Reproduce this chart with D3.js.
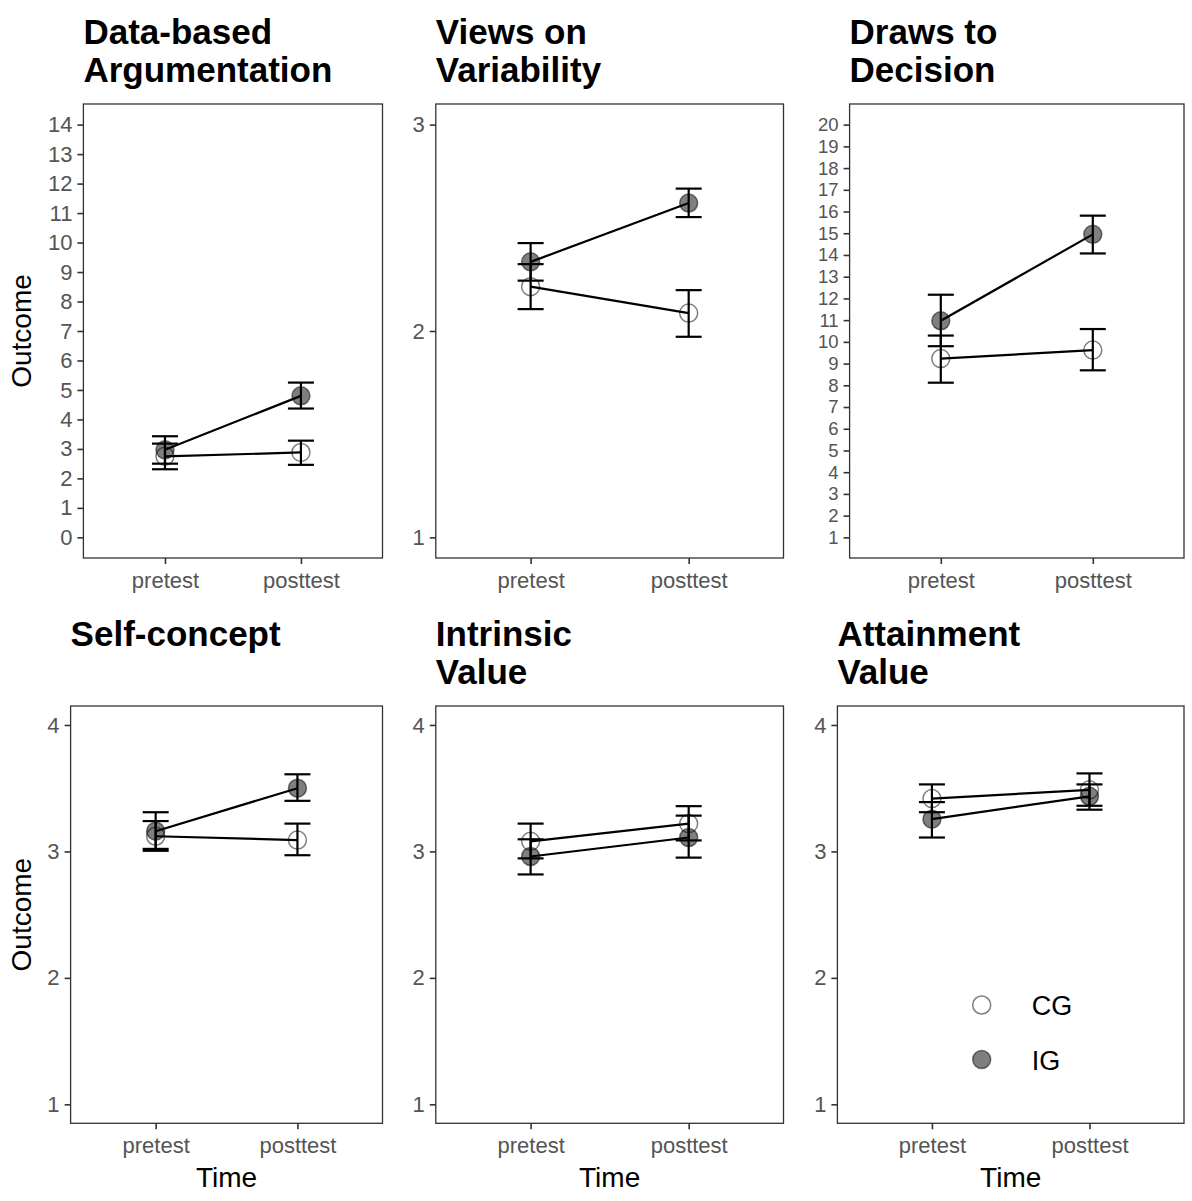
<html>
<head>
<title>Outcome by time</title>
<style>
body { margin: 0; background: #fff; }
svg { font-family: "Liberation Sans", Arial, sans-serif; }
</style>
</head>
<body>
<svg></svg>
<script src="https://d3js.org/d3.v7.min.js"></script>
<script>
// ---- data ----
var panelTitles = [
  ["Data-based", "Argumentation"],
  ["Views on", "Variability"],
  ["Draws to", "Decision"],
  ["Self-concept"],
  ["Intrinsic", "Value"],
  ["Attainment", "Value"]
];
var times = ["pretest", "posttest"];
var groups = ["CG", "IG"];

var yDomains = [[0, 14], [1, 3], [1, 20], [1, 4], [1, 4], [1, 4]];
var yTicks = [
  [0, 1, 2, 3, 4, 5, 6, 7, 8, 9, 10, 11, 12, 13, 14],
  [1, 2, 3],
  [1, 2, 3, 4, 5, 6, 7, 8, 9, 10, 11, 12, 13, 14, 15, 16, 17, 18, 19, 20],
  [1, 2, 3, 4],
  [1, 2, 3, 4],
  [1, 2, 3, 4]
];

// [pretest, posttest] per panel
var cgMean  = [[2.75, 2.88], [2.215, 2.087], [9.23, 9.62],  [3.12, 3.09],  [3.08, 3.22],  [3.418, 3.487]];
var cgLower = [[2.31, 2.46], [2.106, 1.972], [8.12, 8.69],  [3.005, 2.97], [2.945, 3.087], [3.31, 3.361]];
var cgUpper = [[3.18, 3.28], [2.324, 2.198], [10.29, 10.59], [3.24, 3.22], [3.22, 3.358], [3.53, 3.617]];
var igMean  = [[2.97, 4.80], [2.335, 2.62], [10.97, 14.95], [3.16, 3.50], [2.96, 3.11],  [3.255, 3.436]];
var igLower = [[2.50, 4.37], [2.244, 2.552], [9.80, 14.07], [3.02, 3.40],  [2.818, 2.951], [3.11, 3.33]];
var igUpper = [[3.43, 5.25], [2.426, 2.69], [12.17, 15.81], [3.31, 3.61], [3.096, 3.283], [3.39, 3.53]];

// ---- layout ----
var svg = d3.select("svg").attr("width", 1192).attr("height", 1201);

var frames = [
  {x0: 83.4,  x1: 382.5, y0: 104, y1: 558},
  {x0: 435.8, x1: 783.5, y0: 104, y1: 558},
  {x0: 849.6, x1: 1184,  y0: 104, y1: 558},
  {x0: 70.6,  x1: 382.5, y0: 706, y1: 1123.3},
  {x0: 435.8, x1: 783.5, y0: 706, y1: 1123.3},
  {x0: 837.4, x1: 1184,  y0: 706, y1: 1123.3}
];
var titleBase = [44, 44, 44, 646, 646, 646];

var capHalf = 13;
var tickFont = 22;

frames.forEach(function(f, i) {
  var g = svg.append("g");

  var x = d3.scalePoint().domain(times).range([f.x0, f.x1]).padding(0.6);
  var lo = yDomains[i][0], hi = yDomains[i][1], pad = (hi - lo) * 0.05;
  var y = d3.scaleLinear().domain([lo - pad, hi + pad]).range([f.y1, f.y0]);

  // title
  var t = g.append("text")
    .attr("x", f.x0)
    .attr("y", titleBase[i])
    .attr("font-size", 35)
    .attr("font-weight", "bold")
    .attr("fill", "#000");
  panelTitles[i].forEach(function(line, k) {
    t.append("tspan").attr("x", f.x0).attr("dy", k == 0 ? 0 : 38).text(line);
  });

  // axes
  var ya = g.append("g")
    .attr("transform", "translate(" + f.x0 + ",0)")
    .call(d3.axisLeft(y).tickValues(yTicks[i]).tickFormat(d3.format("d")).tickSize(6).tickPadding(5));
  var xa = g.append("g")
    .attr("transform", "translate(0," + f.y1 + ")")
    .call(d3.axisBottom(x).tickSize(6).tickPadding(8));
  [ya, xa].forEach(function(a) {
    a.select(".domain").remove();
    a.selectAll(".tick line").attr("stroke", "#333").attr("stroke-width", 1.6);
    a.selectAll(".tick text")
      .attr("font-size", tickFont)
      .attr("fill", "#555")
      .attr("font-family", "Liberation Sans, Arial, sans-serif");
  });
  // the 20-tick axis is dense: keep its labels from colliding
  if (yTicks[i].length > 15) {
    ya.selectAll(".tick text").attr("font-size", 18.5);
  }

  // panel frame
  g.append("rect")
    .attr("x", f.x0).attr("y", f.y0)
    .attr("width", f.x1 - f.x0).attr("height", f.y1 - f.y0)
    .attr("fill", "none").attr("stroke", "#333").attr("stroke-width", 1.3);

  // rows for this panel
  var rows = [];
  groups.forEach(function(grp) {
    times.forEach(function(tm, j) {
      rows.push({
        group: grp, time: tm,
        mean: grp == "CG" ? cgMean[i][j] : igMean[i][j],
        lower: grp == "CG" ? cgLower[i][j] : igLower[i][j],
        upper: grp == "CG" ? cgUpper[i][j] : igUpper[i][j]
      });
    });
  });

  // points
  g.selectAll("circle.pt")
    .data(rows).enter()
    .append("circle")
    .attr("class", "pt")
    .attr("cx", function(d) { return x(d.time); })
    .attr("cy", function(d) { return y(d.mean); })
    .attr("r", 9)
    .attr("fill", function(d) { return d.group == "IG" ? "#000" : "#fff"; })
    .attr("fill-opacity", function(d) { return d.group == "IG" ? 0.5 : 1; })
    .attr("stroke", "#000")
    .attr("stroke-opacity", 0.5)
    .attr("stroke-width", 1.5);

  // lines
  var line = d3.line()
    .x(function(d) { return x(d.time); })
    .y(function(d) { return y(d.mean); });
  groups.forEach(function(grp) {
    g.append("path")
      .datum(rows.filter(function(d) { return d.group == grp; }))
      .attr("d", line)
      .attr("fill", "none")
      .attr("stroke", "#000")
      .attr("stroke-width", 2.2);
  });

  // error bars
  var eb = g.selectAll("g.eb")
    .data(rows).enter()
    .append("g").attr("class", "eb")
    .attr("stroke", "#000").attr("stroke-width", 2.2);
  eb.append("line")
    .attr("x1", function(d) { return x(d.time); })
    .attr("x2", function(d) { return x(d.time); })
    .attr("y1", function(d) { return y(d.lower); })
    .attr("y2", function(d) { return y(d.upper); });
  eb.append("line")
    .attr("x1", function(d) { return x(d.time) - capHalf; })
    .attr("x2", function(d) { return x(d.time) + capHalf; })
    .attr("y1", function(d) { return y(d.upper); })
    .attr("y2", function(d) { return y(d.upper); });
  eb.append("line")
    .attr("x1", function(d) { return x(d.time) - capHalf; })
    .attr("x2", function(d) { return x(d.time) + capHalf; })
    .attr("y1", function(d) { return y(d.lower); })
    .attr("y2", function(d) { return y(d.lower); });

  // axis titles
  if (i == 0 || i == 3) {
    var cy = (f.y0 + f.y1) / 2;
    g.append("text")
      .attr("transform", "translate(31," + cy + ") rotate(-90)")
      .attr("text-anchor", "middle")
      .attr("font-size", 28)
      .attr("fill", "#000")
      .text("Outcome");
  }
  if (i >= 3) {
    g.append("text")
      .attr("x", (f.x0 + f.x1) / 2)
      .attr("y", 1187)
      .attr("text-anchor", "middle")
      .attr("font-size", 28)
      .attr("fill", "#000")
      .text("Time");
  }

  // legend inside last panel
  if (i == 5) {
    var lg = g.selectAll("g.lg")
      .data(groups).enter()
      .append("g").attr("class", "lg")
      .attr("transform", function(d, k) { return "translate(981.7," + (1005 + k * 54.5) + ")"; });
    lg.append("circle")
      .attr("r", 9)
      .attr("fill", function(d) { return d == "IG" ? "#000" : "#fff"; })
      .attr("fill-opacity", function(d) { return d == "IG" ? 0.5 : 1; })
      .attr("stroke", "#000")
      .attr("stroke-opacity", 0.5)
      .attr("stroke-width", 1.5);
    lg.append("text")
      .attr("x", 50)
      .attr("y", 10)
      .attr("font-size", 27)
      .attr("fill", "#000")
      .text(function(d) { return d; });
  }
});
</script>
</body>
</html>
